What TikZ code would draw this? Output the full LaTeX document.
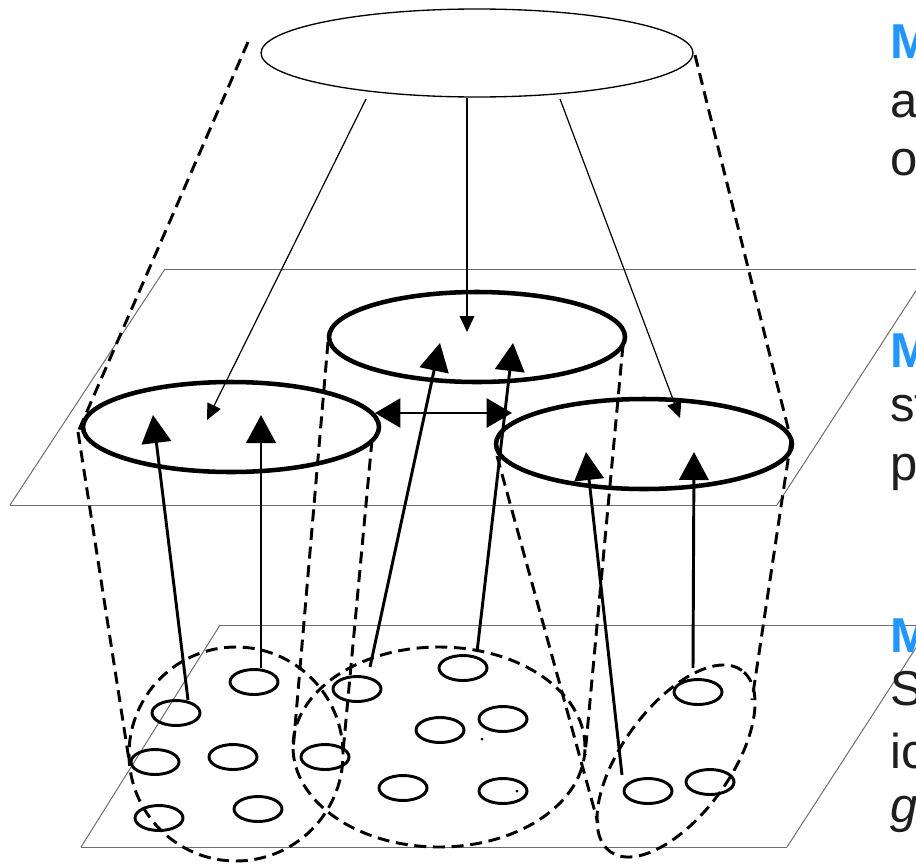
\documentclass[tikz,border=0pt]{standalone}
\usepackage{fontspec}
\setmainfont{Liberation Sans}
\usetikzlibrary{arrows.meta,shapes.geometric}
\definecolor{planegray}{RGB}{110,110,110}
\definecolor{lvlblue}{RGB}{33,150,255}
\definecolor{txtdark}{RGB}{30,30,30}
\begin{document}
\begin{tikzpicture}[x=0.75pt,y=-0.75pt,
  plane/.style={draw=planegray,line width=0.75pt},
  topell/.style={draw,ellipse,line width=1pt,inner sep=0pt,minimum width=432*0.75pt,minimum height=88*0.75pt},
  mesoell/.style={draw,ellipse,line width=3.4pt,inner sep=0pt,minimum width=296*0.75pt,minimum height=90*0.75pt},
  micro/.style={draw,ellipse,line width=2.2pt,inner sep=0pt,minimum width=48*0.75pt,minimum height=25*0.75pt},
  dashpat/.style={line width=2.2pt,dash pattern=on 9pt off 5pt},
  cluster/.style={ellipse,draw,dashpat,inner sep=0pt},
  thinarr/.style={line width=0.9pt,-{Triangle[length=12pt,width=11pt]}},
  bigarr/.style={line width=2.2pt,-{Triangle[length=21pt,width=22pt]}},
  dblarr/.style={line width=1pt,{Triangle[length=19pt,width=22pt]}-{Triangle[length=19pt,width=22pt]}},
  txt/.style={anchor=base west,inner sep=0pt,font=\fontsize{36.75}{44}\selectfont,text=txtdark},
  lvl/.style={txt,font=\fontsize{36.75}{44}\selectfont\bfseries,text=lvlblue}]
\path[use as bounding box] (0,0) rectangle (916,864);
\clip (0,0) rectangle (916,864);

% planes
\draw[plane] (165,269) -- (940,269);
\draw[plane] (10,505) -- (777,505);
\draw[plane] (10,505) -- (165,269);
\draw[plane] (777,505) -- (932,266);
\draw[plane] (220,625) -- (940,625);
\draw[plane] (81,847) -- (787,847);
\draw[plane] (81,847) -- (220,625);
\draw[plane] (787,847) -- (932,623);

% ellipses
\node[topell] (top) at (477,53) {};
\node[mesoell] (L) at (231,427) {};
\node[mesoell] (C) at (477,337) {};
\node[mesoell] (R) at (644,444) {};

% clusters
\node[cluster,minimum width=214*0.75pt,minimum height=214*0.75pt] (K1) at (236,754) {};
\node[cluster,minimum width=292*0.75pt,minimum height=200*0.75pt] (K2) at (439,747) {};
\node[cluster,minimum width=224*0.75pt,minimum height=108*0.75pt,rotate=54] (K3) at (676,761) {};

% micro circles
\foreach \n/\p in {m1/{(254,682)},m2/{(176,713)},m3/{(155,762)},m4/{(233,757)},m5/{(159,818)},m6/{(258,809)},m7/{(325,757)},m8/{(357,689)},m9/{(463,668)},m10/{(440,730)},m11/{(503,719)},m12/{(403,788)},m13/{(503,791)},m14/{(698,692)},m15/{(648,791)},m16/{(710,782)}}
  \node[micro] (\n) at \p {};
\fill (482,739) circle (1.5);
\fill (517,791) circle (1.5);

% connector coordinates
\coordinate (tl) at (248,42);
\coordinate (tr) at (695,55);
\coordinate (Lw) at (78,432);
\coordinate (Le) at (372,440);
\coordinate (Cw) at (328,342);
\coordinate (Ce) at (623,345);
\coordinate (Rw) at (497,456);
\coordinate (Re) at (791,440);
\coordinate (k1w) at (129,760);
\coordinate (k1e) at (343,752);
\coordinate (k2w) at (293,750);
\coordinate (k2e) at (585,755);
\coordinate (k3w) at (598,823);
\coordinate (k3e) at (752,700);

% cone lines
\draw[dashpat] (tl) -- (Lw);
\draw[dashpat] (tr) -- (Re);
\draw[dashpat] (Lw) -- (k1w);
\draw[dashpat] (Le) -- (k1e);
\draw[dashpat] (Cw) -- (k2w);
\draw[dashpat] (Ce) -- (k2e);
\draw[dashpat] (Rw) -- (k3w);
\draw[dashpat] (Re) -- (k3e);

% arrows from top
\coordinate (a1s) at (366,99);  \coordinate (a1t) at (207,420);
\coordinate (a2s) at (467,98);  \coordinate (a2t) at (467,332);
\coordinate (a3s) at (560,99);  \coordinate (a3t) at (680,418);
\draw[thinarr] (a1s) -- (a1t);
\draw[thinarr] (a2s) -- (a2t);
\draw[thinarr] (a3s) -- (a3t);

% double arrow
\coordinate (d1) at (375,413); \coordinate (d2) at (512,413);
\draw[dblarr] (d1) -- (d2);

% arrows from micro
\coordinate (b1s) at (188,700); \coordinate (b1t) at (153,415);
\coordinate (b2s) at (261,668); \coordinate (b2t) at (261,415);
\coordinate (b3s) at (370,667); \coordinate (b3t) at (440,343);
\coordinate (b4s) at (477,652); \coordinate (b4t) at (513,343);
\coordinate (b5s) at (622,775); \coordinate (b5t) at (586,452);
\coordinate (b6s) at (693,668); \coordinate (b6t) at (694,452);
\draw[bigarr] (b1s) -- (b1t);
\draw[bigarr] (b2s) -- (b2t);
\draw[bigarr] (b3s) -- (b3t);
\draw[bigarr] (b4s) -- (b4t);
\draw[bigarr] (b5s) -- (b5t);
\draw[bigarr] (b6s) -- (b6t);

% texts
\node[lvl] (t1) at (890,58) {M};
\node[txt] (t2) at (890,117) {a};
\node[txt] (t3) at (890,175) {o};
\node[lvl] (t4) at (890,367) {M};
\node[txt] (t5) at (890,421) {st};
\node[txt] (t6) at (890,480) {p};
\node[lvl] (t7) at (890,652) {M};
\node[txt] (t8) at (890,705) {S};
\node[txt] (t9) at (890,768) {ic};
\node[txt,font=\fontsize{36.75}{44}\selectfont\itshape] (t10) at (890,822) {g};
\end{tikzpicture}
\end{document}
